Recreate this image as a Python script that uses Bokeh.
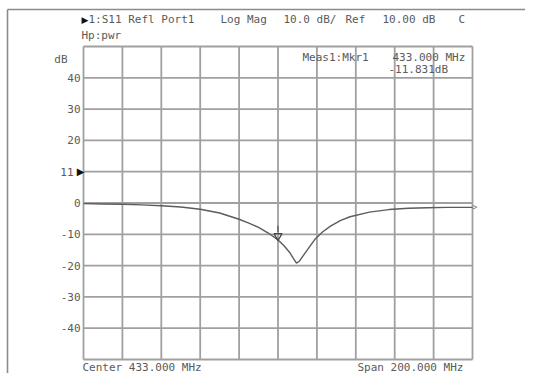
from bokeh.plotting import figure
from bokeh.models import Label, Range1d
from bokeh.core.properties import value
from bokeh.embed import file_html
from bokeh.resources import INLINE

# ---- data ----
freq_mhz = [333, 343, 353, 363, 373, 383, 393, 403, 413, 418, 423, 428, 433, 436, 439,
            441, 442.5, 444, 446, 449, 452, 456, 460, 465, 470, 480, 490, 500, 510, 520, 533]
s11_db = [-0.2, -0.3, -0.4, -0.6, -0.9, -1.3, -2.0, -3.2, -5.2, -6.4, -7.8, -9.6, -11.8,
          -13.6, -15.8, -17.8, -19.2, -18.6, -16.8, -14.2, -11.6, -9.2, -7.4, -5.6, -4.4,
          -2.9, -2.1, -1.7, -1.5, -1.4, -1.4]
x_grid = [333, 353, 373, 393, 413, 433, 453, 473, 493, 513, 533]
y_grid = [-50, -40, -30, -20, -10, 0, 10, 20, 30, 40, 50]
y_tick_vals = [40, 30, 20, 0, -10, -20, -30, -40]
y_tick_labels = ["40", "30", "20", "0", "-10", "-20", "-30", "-40"]
ref_level = 10
marker_freq = 433.0
marker_db = -11.831
center_mhz = 433.0
span_mhz = 200.0

X0, X1 = center_mhz - span_mhz / 2, center_mhz + span_mhz / 2
Y0, Y1 = -50, 50

# pixel geometry of the graticule inside the canvas
W, H = 525, 373
GL, GT, GW, GH = 83, 46, 389, 313
KX = (X1 - X0) / GW
KY = (Y1 - Y0) / GH
xs = X0 - GL * KX
ys = Y1 + GT * KY

FONT = "DejaVu Sans Mono"
TXT = "#5a5a5a"
GRID = "#a0a0a0"

p = figure(width=W, height=H, output_backend="svg", toolbar_location=None,
           x_range=Range1d(xs, xs + W * KX), y_range=Range1d(ys - H * KY, ys),
           min_border=0)
p.title.visible = False
p.axis.visible = False
p.grid.visible = False
p.outline_line_color = None
p.background_fill_color = "white"
p.border_fill_color = "white"


def px_x(px):
    return xs + px * KX


def px_y(py):
    return ys - py * KY


# outer panel lines (instrument screen border)
p.segment(x0=[px_x(7), px_x(7)], y0=[px_y(9), px_y(9)],
          x1=[px_x(W), px_x(7)], y1=[px_y(9), px_y(H)],
          line_color="#8c8c8c", line_width=1.6)

# graticule
p.segment(x0=x_grid, y0=[Y0] * len(x_grid), x1=x_grid, y1=[Y1] * len(x_grid),
          line_color=GRID, line_width=1.8)
p.segment(x0=[X0] * len(y_grid), y0=y_grid, x1=[X1] * len(y_grid), y1=y_grid,
          line_color=GRID, line_width=1.8)

# y tick labels
p.text(x=[X0] * len(y_tick_vals), y=y_tick_vals, text=y_tick_labels,
       x_offset=-3, text_align="right", text_baseline="middle",
       text_font=value(FONT), text_font_size="11px", text_color=TXT)

# trace
p.line(freq_mhz, s11_db, line_color="#5c5c5c", line_width=1.4)

# marker 1
p.segment(x0=[marker_freq], y0=[marker_db + 2.6], x1=[marker_freq], y1=[marker_db + 4.6],
          line_color="#555555", line_width=1.2)
p.scatter([marker_freq], [marker_db + 1.3], marker="inverted_triangle", size=8,
          line_color="#444444", line_width=1.2, fill_color=None)


def lab(text, px, py, align="left", color=TXT, size="11px", font=FONT):
    p.add_layout(Label(x=px_x(px), y=px_y(py), text=text, text_align=align,
                       text_baseline="middle", text_color=color,
                       text_font=font, text_font_size=size))


# header
lab("\u25B6", 81, 19, color="#111111", size="9px", font="DejaVu Sans")
lab("1:S11 Refl Port1", 88, 19)
lab("Log Mag", 220, 19)
lab("10.0 dB/", 283, 19)
lab("Ref", 345, 19)
lab("10.00 dB", 382, 19)
lab("C", 458, 19)
lab("Hp:pwr", 81, 35)

# y unit + reference position marker
lab("dB", 67, 59, align="right")
lab("11", 73, 171, align="right")
p.add_layout(Label(x=X0, y=ref_level, text="\u25B6", text_align="right",
                   text_baseline="middle", text_color="#111111",
                   text_font="DejaVu Sans", text_font_size="10px", x_offset=1))

# marker readout
lab("Meas1:Mkr1", 302, 57)
lab(f"{marker_freq:.3f} MHz", 392, 57)
lab(f"{marker_db:.3f}dB", 388, 69)

# end-of-trace indicator
p.add_layout(Label(x=X1, y=s11_db[-1], text=">", text_align="left",
                   text_baseline="middle", text_color="#777777",
                   text_font=FONT, text_font_size="8px", x_offset=0))

# footer
lab(f"Center {center_mhz:.3f} MHz", 82, 367)
lab(f"Span {span_mhz:.3f} MHz", 357, 367)

open("out.html", "w").write(file_html(p, INLINE))
